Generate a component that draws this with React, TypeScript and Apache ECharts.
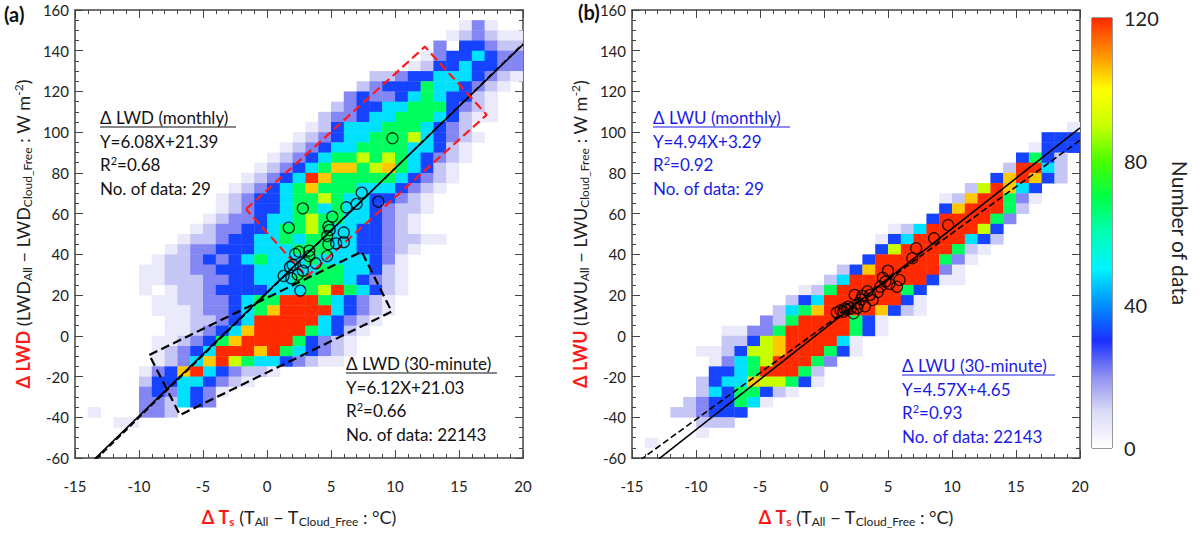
import React, { useEffect, useRef } from 'react';
import * as echarts from 'echarts';

// 2D histogram rows: [y bin start (W m-2), first x bin (°C), count levels per 1°C bin]
const lwdRows: [number, number, string][] = [
  [150, 15, '131'], [145, 14, '123211'], [140, 13, '3044322'], [135, 12, '13445433'],
  [130, 11, '124454433'], [125, 8, '223445554321'], [120, 7, '234446554321'],
  [115, 6, '343345654421'], [110, 5, '2344556664321'], [105, 4, '23345566654211'],
  [100, 3, '1245556665432'], [95, 2, '123455666754321'], [90, 1, '123455666655421'],
  [85, 0, '1234566767654321'], [80, -1, '1234568867865421'], [75, -2, '12345986666654321'],
  [70, -3, '12345686665554321'], [65, -4, '12344566765544321'], [60, -4, '12344566565543221'],
  [55, -5, '12334556766554321'], [50, -6, '123344566765544321'], [45, -7, '122344556566554432211'],
  [40, -8, '12334445556665544321'], [35, -9, '12234345655565555431'],
  [30, -10, '112233444555556655421'], [25, -10, '112223344555666654321'],
  [20, -10, '101223444455567965421'], [15, -9, '1122334566999654321'],
  [10, -9, '1112334568999954321'], [5, -8, '11223459999954321'], [0, -8, '1123458999965421'],
  [-5, -9, '1123468999964321'], [-10, -9, '1234599989654321'], [-15, -9, '123589765543211'],
  [-20, -10, '13489543221'], [-25, -10, '244554321'], [-30, -10, '3435431'],
  [-35, -10, '332543'], [-40, -14, '1000332'], [-45, -12, '11'],
];

const lwuRows: [number, number, string][] = [
  [100, 19, '1'], [95, 17, '444'], [90, 16, '1444'], [85, 15, '4642'], [80, 14, '29952'],
  [75, 13, '489842'], [70, 11, '279854'], [65, 9, '12899631'], [60, 9, '4899962'],
  [55, 8, '4999963'], [50, 5, '125999974'], [45, 4, '1459999542'], [40, 4, '479999621'],
  [35, 3, '499999631'], [30, 1, '2489999931'], [25, 0, '25999999411'], [20, -2, '1269999964'],
  [15, -3, '24599999941'], [10, -4, '256899998421'], [5, -5, '3269999641'],
  [0, -8, '1133699999641'], [-5, -8, '22478999951'], [-10, -10, '1124778999641'],
  [-15, -9, '1356799963'], [-20, -9, '445699962'], [-25, -10, '2455877641'],
  [-30, -10, '25466421'], [-35, -11, '2344651'], [-40, -12, '223444'], [-45, -10, '222'],
  [-50, -10, '1'], [-55, -14, '1'],
];

// counts represented by each level digit
const levelCounts = [0, 6, 13, 21, 32, 48, 68, 90, 105, 120];

const lwdMonthly: [number, number][] = [
  [9.8, 97], [2.8, 62.6], [1.7, 53.1], [7.4, 70.3], [8.7, 65.9], [6.2, 63.1], [7.0, 64.8],
  [5.1, 58.5], [4.8, 53.6], [4.9, 52], [6.0, 50.7], [4.7, 49], [4.8, 45], [5.4, 45.4],
  [6.0, 46], [2.5, 41.3], [2.2, 40.2], [3.3, 41.8], [3.3, 39.2], [4.7, 39.2], [3.8, 35.6],
  [2.0, 34.8], [1.8, 33.7], [1.3, 29.4], [1.9, 28.3], [2.6, 22.2], [2.8, 32], [3.0, 36],
  [2.4, 30],
];

const lwuMonthly: [number, number][] = [
  [9.7, 54.4], [8.6, 47.9], [7.2, 43], [6.9, 38.1], [5.0, 32], [4.8, 26.6], [5.9, 27.4],
  [5.7, 24.1], [4.4, 24.1], [4.6, 28.5], [3.6, 20.1], [2.4, 20.1], [2.7, 16], [1.9, 14.3],
  [1.5, 11.9], [1.0, 11.4], [2.3, 11.1], [3.0, 19.6], [3.8, 17.6], [1.3, 12.5], [1.8, 12.9],
  [2.1, 13.5], [2.6, 13.7], [3.2, 14.5], [2.9, 17.8], [4.2, 21.5], [5.1, 25.5], [3.4, 21.9],
  [1.6, 13.3],
];

// fits: [slope, intercept]
const lwdFitMonthly = [6.08, 21.39];
const lwdFit30 = [6.12, 21.03];
const lwuFitMonthly = [4.94, 3.29];
const lwuFit30 = [4.57, 4.65];

const redBox: [number, number][] = [[-1.64, 62.2], [12.34, 142], [17.16, 108.5], [3.1, 29], [-1.64, 62.2]];
const blackBox: [number, number][] = [[-9.19, -9.4], [7.4, 41.3], [9.74, 11.9], [-6.8, -38.9], [-9.19, -9.4]];

const cmap = ['#ffffff', '#dcdcf8', '#8f8ff2', '#1a30ff', '#0090ff', '#00f4ff', '#00ffb4',
  '#00ff48', '#48ff00', '#c8ff00', '#ffff00', '#ff9000', '#ff2a00'];

const FONT = 'Lato';

function cells(rows: [number, number, string][]) {
  const out: number[][] = [];
  rows.forEach(([y, x0, s]) => {
    s.split('').forEach((ch, i) => {
      const c = levelCounts[Number(ch)];
      if (c > 0) out.push([x0 + i, y, c]);
    });
  });
  return out;
}

const fitLine = (f: number[]) => [[-15, -15 * f[0] + f[1]], [20, 20 * f[0] + f[1]]];

const App: React.FC = () => {
  const ref = useRef<HTMLDivElement>(null);

  useEffect(() => {
    if (!ref.current) return;
    const chart = echarts.init(ref.current, undefined, { renderer: 'svg' });

    const axisColor = '#444';
    const rich = {
      r: { color: '#ff1a1a', fontWeight: 'bold' as const, fontSize: 18, fontFamily: FONT },
      rs: { color: '#ff1a1a', fontWeight: 'bold' as const, fontSize: 12, padding: [9, 0, 0, 0], fontFamily: FONT },
      s: { fontSize: 12, padding: [9, 0, 0, 0], color: '#222', fontFamily: FONT },
      p: { fontSize: 12, padding: [0, 0, 9, 0], color: '#222', fontFamily: FONT },
    };
    const nameStyle = { fontSize: 18, color: '#222', fontFamily: FONT, rich };
    const tick = { inside: true, length: 8, lineStyle: { color: axisColor } };
    const axLine = { onZero: false, lineStyle: { color: axisColor, width: 1.5 } };

    const xAxes = (grid: number) => [
      {
        type: 'value', gridIndex: grid, min: -15, max: 20, interval: 5, position: 'bottom',
        name: '{r|Δ T}{rs|s} (T{s|All} − T{s|Cloud_Free} : °C)', nameLocation: 'middle', nameGap: 48,
        nameTextStyle: nameStyle,
        axisLine: axLine, axisTick: tick,
        minorTick: { show: true, splitNumber: 5, length: 4, lineStyle: { color: axisColor } },
        axisLabel: { margin: 20, fontSize: 15, color: '#222', fontFamily: FONT },
        splitLine: { show: false },
      },
      {
        type: 'value', gridIndex: grid, min: -15, max: 20, interval: 5, position: 'top',
        axisLine: axLine, axisTick: tick,
        minorTick: { show: true, splitNumber: 5, length: 4, lineStyle: { color: axisColor } },
        axisLabel: { show: false }, splitLine: { show: false },
      },
    ];
    const yAxes = (grid: number, name: string) => [
      {
        type: 'value', gridIndex: grid, min: -60, max: 160, interval: 20, position: 'left',
        name, nameLocation: 'middle', nameGap: 42, nameTextStyle: nameStyle,
        axisLine: axLine, axisTick: tick,
        minorTick: { show: true, splitNumber: 4, length: 4, lineStyle: { color: axisColor } },
        axisLabel: { margin: 6, fontSize: 15, color: '#222', fontFamily: FONT },
        splitLine: { show: false },
      },
      {
        type: 'value', gridIndex: grid, min: -60, max: 160, interval: 20, position: 'right',
        axisLine: axLine, axisTick: tick,
        minorTick: { show: true, splitNumber: 4, length: 4, lineStyle: { color: axisColor } },
        axisLabel: { show: false }, splitLine: { show: false },
      },
    ];

    const heat = (data: number[][], xi: number, yi: number) => ({
      type: 'custom', xAxisIndex: xi, yAxisIndex: yi, data, clip: true, z: 1,
      renderItem: (_p: any, api: any) => {
        const a = api.coord([api.value(0), api.value(1) + 5]);
        const b = api.coord([api.value(0) + 1, api.value(1)]);
        return {
          type: 'rect',
          shape: { x: a[0], y: a[1], width: b[0] - a[0] + 0.4, height: b[1] - a[1] + 0.4 },
          style: { fill: api.visual('color') },
        };
      },
    });
    const line = (data: number[][], xi: number, yi: number, color: string, type: string, width = 1.6) => ({
      type: 'line', xAxisIndex: xi, yAxisIndex: yi, data, symbol: 'none', z: 5,
      lineStyle: { color, type, width }, clip: true,
    });
    const circles = (data: number[][], xi: number, yi: number) => ({
      type: 'scatter', xAxisIndex: xi, yAxisIndex: yi, data, symbol: 'circle', symbolSize: 11, z: 6,
      itemStyle: { color: 'rgba(0,0,0,0)', borderColor: '#000', borderWidth: 1.3 },
    });

    const txt = (x: number, y: number, text: string, color: string) => ({
      type: 'text', left: x, top: y,
      style: {
        text, fill: color, fontSize: 17, fontFamily: FONT, lineHeight: 23.5,
        rich: { sup: { fontSize: 11, padding: [0, 0, 8, 0], fill: color, fontFamily: FONT } },
      },
    });
    const uline = (x1: number, x2: number, y: number, color: string) => ({
      type: 'line', shape: { x1, y1: y, x2, y2: y }, style: { stroke: color, lineWidth: 1.2 },
    });
    const blue = '#1a1ae6';

    chart.setOption({
      animation: false,
      textStyle: { fontFamily: FONT },
      grid: [
        { left: 75, top: 10, width: 448, height: 448 },
        { left: 632, top: 10, width: 448, height: 448 },
        { left: 1092, top: 18, width: 20, height: 430, show: true, borderColor: '#333', borderWidth: 1 },
      ],
      xAxis: [
        ...xAxes(0), ...xAxes(1),
        { type: 'category', gridIndex: 2, data: ['c'], show: false },
      ],
      yAxis: [
        ...yAxes(0, '{r|Δ LWD} (LWD{s|All} − LWD{s|Cloud_Free} : W m{p|-2})'),
        ...yAxes(1, '{r|Δ LWU} (LWU{s|All} − LWU{s|Cloud_Free} : W m{p|-2})'),
        {
          type: 'value', gridIndex: 2, min: 0, max: 120, interval: 40, position: 'right',
          name: 'Number of data', nameLocation: 'middle', nameRotate: -90, nameGap: 58,
          nameTextStyle: { fontSize: 21, color: '#222', fontFamily: FONT },
          axisLine: { show: false }, axisTick: { show: false }, splitLine: { show: false },
          axisLabel: { fontSize: 20, color: '#222', margin: 12, fontFamily: FONT },
        },
      ],
      visualMap: {
        type: 'continuous', show: false, min: 0, max: 120, dimension: 2, seriesIndex: [0, 1],
        inRange: { color: cmap },
      },
      series: [
        heat(cells(lwdRows), 0, 0),
        heat(cells(lwuRows), 2, 2),
        line(fitLine(lwdFitMonthly), 0, 0, '#000', 'solid'),
        line(fitLine(lwdFit30), 0, 0, '#000', 'dashed'),
        line(fitLine(lwuFitMonthly), 2, 2, '#000', 'solid'),
        line(fitLine(lwuFit30), 2, 2, '#000', 'dashed'),
        line(redBox, 0, 0, '#ff1a1a', 'dashed', 2.2),
        line(blackBox, 0, 0, '#000', 'dashed', 2.2),
        circles(lwdMonthly, 0, 0),
        circles(lwuMonthly, 2, 2),
        {
          type: 'bar', xAxisIndex: 4, yAxisIndex: 4, data: [120], barWidth: '100%', silent: true,
          itemStyle: {
            color: new echarts.graphic.LinearGradient(0, 1, 0, 0,
              cmap.map((c, i) => ({ offset: i / (cmap.length - 1), color: c }))),
          },
        },
      ],
      graphic: [
        { type: 'text', left: 4, top: 4, style: { text: '(a)', fontSize: 20, fontWeight: 'bold', fill: '#111', fontFamily: FONT } },
        { type: 'text', left: 578, top: 2, style: { text: '(b)', fontSize: 20, fontWeight: 'bold', fill: '#111', fontFamily: FONT } },
        txt(100, 106, 'Δ LWD (monthly)\nY=6.08X+21.39\nR{sup|2}=0.68\nNo. of data: 29', '#111'),
        uline(100, 236, 127, '#111'),
        txt(346, 352, 'Δ LWD (30-minute)\nY=6.12X+21.03\nR{sup|2}=0.66\nNo. of data: 22143', '#111'),
        uline(346, 497, 373, '#111'),
        txt(653, 106, 'Δ LWU (monthly)\nY=4.94X+3.29\nR{sup|2}=0.92\nNo. of data: 29', blue),
        uline(653, 790, 127, blue),
        txt(902, 354, 'Δ LWU (30-minute)\nY=4.57X+4.65\nR{sup|2}=0.93\nNo. of data: 22143', blue),
        uline(902, 1055, 375, blue),
      ],
    });
    return () => chart.dispose();
  }, []);

  return <div ref={ref} style={{ position: 'absolute', left: 0, top: 0, width: 1200, height: 533 }} />;
};

export default App;
